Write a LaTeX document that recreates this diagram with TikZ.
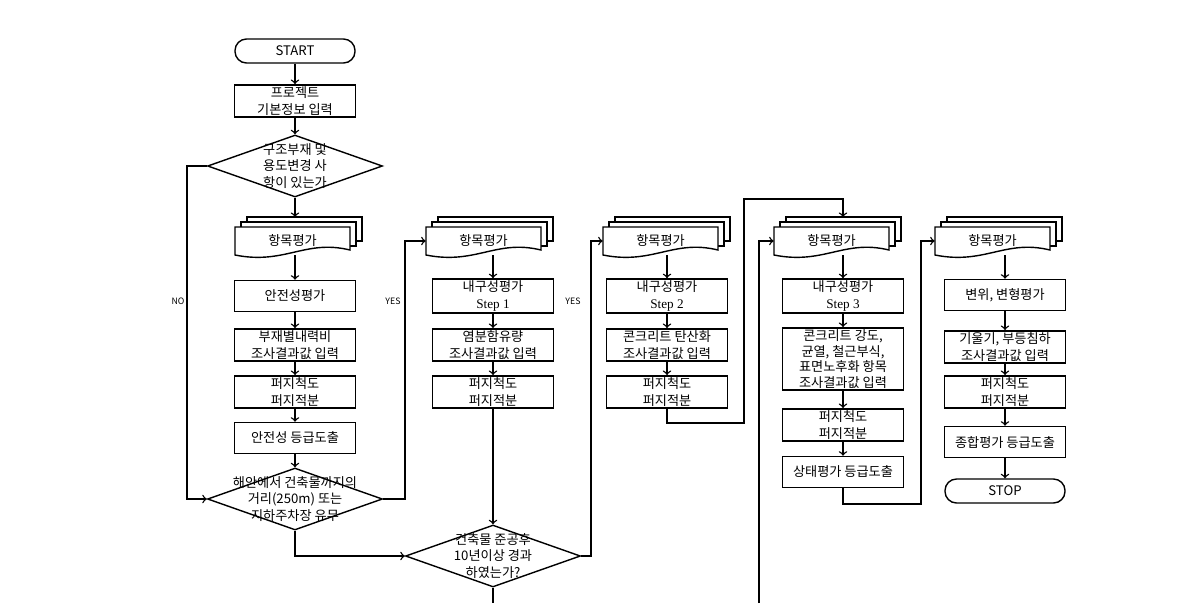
\documentclass[tikz,border=0pt]{standalone}
\usepackage{fontspec}
\setmainfont{Noto Sans CJK KR}
\newfontfamily\stepfont{Liberation Serif}
\usepackage{tikz}
\usetikzlibrary{shapes.geometric}
\usetikzlibrary{arrows}

\tikzset{
    box/.style = {draw, line width = 0.9pt, fill = white, minimum width = 2.42cm,
        minimum height = 0.62cm, inner sep = 1pt, align = center},
    terminal/.style = {draw, line width = 0.8pt, rounded corners = 0.23cm,
        minimum width = 2.4cm, minimum height = 0.48cm, inner sep = 1pt},
    decision/.style = {draw, diamond, line width = 0.8pt, minimum width = 3.5cm,
        minimum height = 1.24cm, inner sep = 0pt},
    qtext/.style = {align = center, inner sep = 0pt},
    sheet/.style = {draw = black, fill = white, line width = 0.8pt},
    doctext/.style = {minimum width = 2.3cm, minimum height = 0.56cm, inner sep = 0pt},
    flow/.style = {->, >=to, line width = 0.8pt},
    answer/.style = {font = \fontsize{5}{6}\selectfont}
}

% stack of three sheets; #1 name, #2 #3 top left of the front sheet, #4 text
\newcommand{\docstack}[4]{
    \filldraw[sheet] (#2+12, #3-10) rectangle (#2+127, #3+14);
    \filldraw[sheet] (#2+6, #3-5) rectangle (#2+121, #3+19);
    \filldraw[sheet] (#2, #3) -- (#2+115, #3) -- (#2+115, #3+23)
        .. controls (#2+70, #3+12) and (#2+50, #3+38) .. (#2, #3+28) -- cycle;
    \node[doctext] (#1) at (#2+57.5, #3+14) {#4};
    \coordinate (#1-top) at (#2+57.5, #3-10);
}

\begin{document}
\begin{tikzpicture}[x = 0.02cm, y = -0.02cm,
    every node/.style = {font = \fontsize{7.5}{9.6}\selectfont}]
    \useasboundingbox (0, 0) rectangle (1190, 603);

    % safety
    \node[terminal] (start) at (295, 51) {START};
    \node[box] (info) at (295, 101) {프로젝트\\기본정보 입력};
    \node[decision] (q1) at (295, 166) {};
    \node[qtext] (q1text) at (q1) {구조부재 및\\용도변경 사\\항이 있는가};
    \docstack{doc1}{235}{227}{항목평가}
    \node[box] (safe) at (295, 296) {안전성평가};
    \node[box] (c1in) at (295, 345) {부재별내력비\\조사결과값 입력};
    \node[box] (c1fz) at (295, 392) {퍼지척도\\퍼지적분};
    \node[box] (c1gr) at (295, 438) {안전성 등급도출};
    \node[decision] (q2) at (295, 499) {};
    \node[qtext] (q2text) at (q2) {해안에서 건축물까지의\\거리(250m) 또는\\지하주차장 유무};

    % durability 1
    \docstack{doc2}{426}{227}{항목평가}
    \node[box] (step1) at (493, 296) {내구성평가\\{\stepfont Step 1}};
    \node[box] (salt) at (493, 345) {염분함유량\\조사결과값 입력};
    \node[box] (c2fz) at (493, 392) {퍼지척도\\퍼지적분};
    \node[decision] (q3) at (493, 556) {};
    \node[qtext] (q3text) at (q3) {건축물 준공후\\10년이상 경과\\하였는가?};

    % durability 2
    \docstack{doc3}{603}{227}{항목평가}
    \node[box] (step2) at (667, 296) {내구성평가\\{\stepfont Step 2}};
    \node[box] (carb) at (667, 345) {콘크리트 탄산화\\조사결과값 입력};
    \node[box] (c3fz) at (667, 392) {퍼지척도\\퍼지적분};

    % durability 3
    \docstack{doc4}{774}{227}{항목평가}
    \node[box] (step3) at (843, 296) {내구성평가\\{\stepfont Step 3}};
    \node[box, font = \fontsize{7.5}{8.9}\selectfont] (conc) at (843, 359)
        {콘크리트 강도,\\균열, 철근부식,\\표면노후화 항목\\조사결과값 입력};
    \node[box] (c4fz) at (843, 425) {퍼지척도\\퍼지적분};
    \node[box] (c4gr) at (843, 472) {상태평가 등급도출};

    % deformation
    \docstack{doc5}{935}{227}{항목평가}
    \node[box] (disp) at (1005, 295) {변위, 변형평가};
    \node[box] (tilt) at (1005, 347) {기울기, 부등침하\\조사결과값 입력};
    \node[box] (c5fz) at (1005, 392) {퍼지척도\\퍼지적분};
    \node[box] (total) at (1005, 442) {종합평가 등급도출};
    \node[terminal] (stop) at (1005, 491) {STOP};

    \node[answer] (no) at (178, 301) {NO};
    \node[answer] (yes1) at (393, 301) {YES};
    \node[answer] (yes2) at (573, 301) {YES};

    \coordinate (q3foot) at (493, 603);
    \coordinate (c4foot) at (759, 603);
    \coordinate (c3bendA) at (744, 423);
    \coordinate (c3bendB) at (843, 199);
    \coordinate (c4bend) at (921, 504);

    \draw[flow] (start) -- (info);
    \draw[flow] (info) -- (q1);
    \draw[flow] (q1.south) -- (q1.south |- doc1-top);
    \draw[flow] (safe.north |- doc1.south) -- (safe);
    \draw[flow] (safe) -- (c1in);
    \draw[flow] (c1in) -- (c1fz);
    \draw[flow] (c1fz) -- (c1gr);
    \draw[flow] (c1gr) -- (q2);
    \draw[flow] (q1.west) -- ++(-20, 0) |- (q2.west);
    \draw[flow] (q2.east) -- ++(22, 0) |- (doc2.west);
    \draw[flow] (q2.south) |- (q3.west);

    \draw[flow] (step1.north |- doc2.south) -- (step1);
    \draw[flow] (step1) -- (salt);
    \draw[flow] (salt) -- (c2fz);
    \draw[flow] (c2fz) -- (q3);
    \draw[flow] (q3.east) -- ++(10, 0) |- (doc3.west);
    \draw[line width = 0.8pt] (q3.south) -- (q3foot);

    \draw[flow] (step2.north |- doc3.south) -- (step2);
    \draw[flow] (step2) -- (carb);
    \draw[flow] (carb) -- (c3fz);
    \draw[flow] (c3fz.south) |- (c3bendA) |- (c3bendB) -- (c3bendB |- doc4-top);

    \draw[flow] (c4foot) |- (doc4.west);
    \draw[flow] (step3.north |- doc4.south) -- (step3);
    \draw[flow] (step3) -- (conc);
    \draw[flow] (conc) -- (c4fz);
    \draw[flow] (c4fz) -- (c4gr);
    \draw[flow] (c4gr.south) |- (c4bend) |- (doc5.west);

    \draw[flow] (disp.north |- doc5.south) -- (disp);
    \draw[flow] (disp) -- (tilt);
    \draw[flow] (tilt) -- (c5fz);
    \draw[flow] (c5fz) -- (total);
    \draw[flow] (total) -- (stop);
\end{tikzpicture}
\end{document}
